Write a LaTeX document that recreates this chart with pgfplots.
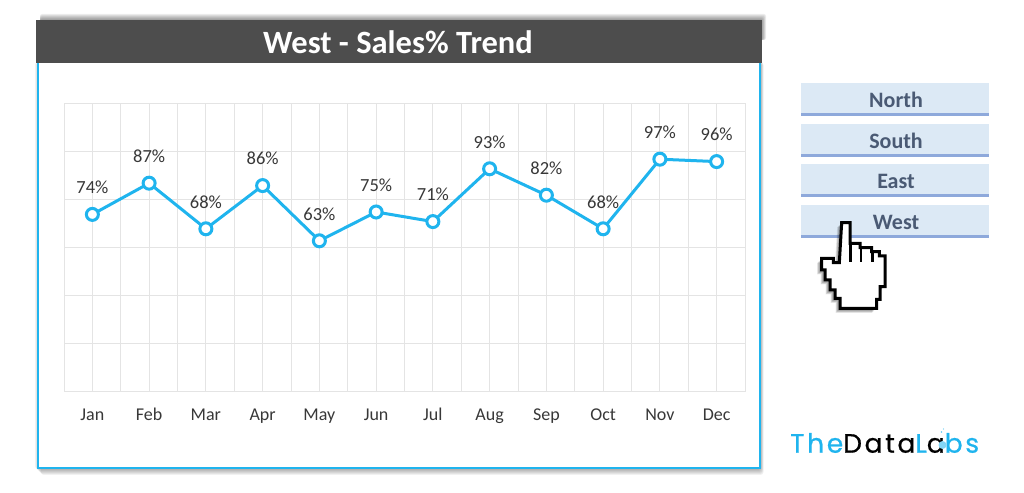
\documentclass[border=0pt]{standalone}
\usepackage{fontspec}
\usepackage{pgfplots}
\pgfplotsset{compat=1.18}
\setmainfont{Carlito}
\newfontfamily\logofont[LetterSpace=10,FakeBold=0.6]{Poppins}
\definecolor{linecol}{HTML}{1FB4EE}
\definecolor{gridcol}{HTML}{E4E4E4}
\definecolor{titlecol}{HTML}{4D4D4D}
\definecolor{btnfill}{HTML}{DCE9F5}
\definecolor{btnline}{HTML}{8EA9DB}
\definecolor{btntext}{HTML}{4A5A74}
\definecolor{labcol}{HTML}{383838}
\begin{document}
\begin{tikzpicture}
\begin{scope}[x=1pt,y=-1pt,yshift=492pt]
\useasboundingbox (0,0) rectangle (1024,492);
\fill[white] (0,0) rectangle (1024,492);
% panel shadow
\foreach \i in {1,...,7}{
  \fill[black,opacity=0.055,rounded corners=3pt] (34+\i,62) rectangle (760+\i/2,468+\i);
}
% title shadow
\foreach \i in {1,...,6}{
  \fill[black,opacity=0.07,rounded corners=2pt] (40,20-\i) rectangle (762+\i/1.5,40);
}
% panel
\fill[white] (37,63) rectangle (760,468);
\draw[linecol,line width=2pt] (37.5,63) -- (37.5,468) -- (759.5,468) -- (759.5,63);
% title bar
\fill[titlecol] (36,20) rectangle (762,63);
\node[text=white,font=\fontsize{32.5}{33}\selectfont\bfseries,anchor=center] at (398,42) {West - Sales\% Trend};
% buttons
\foreach \yt/\yb/\name in {83/116/North,124/157/South,164/197/East,205/238/West}{
  \fill[btnfill] (801,\yt) rectangle (989,\yb);
  \draw[btnline,line width=2.6pt] (801,\yb-1.3) -- (989,\yb-1.3);
  \node[text=btntext,font=\fontsize{22}{23}\selectfont\bfseries,anchor=center] at (896,\yb-16) {\name};
}
% logo
\node[anchor=west,inner sep=0pt,font=\fontsize{26.5}{27}\selectfont\logofont] at (790,443)
  {\textcolor{linecol}{The}\textcolor{black}{Data}\textcolor{linecol}{L}\textcolor{black}{a}\textcolor{linecol}{bs}};
\fill[linecol!55] (942.5,445) circle (4);
\fill[linecol!70] (941.5,432) circle (0.9) (943.5,429) circle (0.7);
\end{scope}
\begin{axis}[
  at={(64pt,100pt)},anchor=south west,
  scale only axis,width=681pt,height=288pt,
  xmin=-0.5,xmax=11.5,ymin=0,ymax=120,
  xtick={0,...,11},
  xticklabels={Jan,Feb,Mar,Apr,May,Jun,Jul,Aug,Sep,Oct,Nov,Dec},
  minor xtick={-0.5,0.5,...,11.5},
  ytick={0,20,...,120},yticklabels={},
  grid=both,
  major grid style={gridcol,line width=1pt},
  minor grid style={gridcol,line width=1pt},
  axis line style={gridcol,line width=1pt},
  tick style={draw=none},
  minor tick length=0pt,major tick length=0pt,
  xticklabel style={font=\fontsize{18}{19}\selectfont,text=labcol,yshift=-13pt,text height=12pt,text depth=4pt},
  clip=false,
]
\addplot[linecol,line width=3pt,mark=*,
  mark options={fill=white,draw=linecol,line width=3pt},mark size=6pt,
  nodes near coords={\pgfmathprintnumber[fixed,precision=0,assume math mode=true]{\pgfplotspointmeta}\%},
  nodes near coords style={font=\fontsize{18.5}{19}\selectfont,text=labcol,anchor=center,yshift=27pt},
  point meta=y]
coordinates {(0,74)(1,87)(2,68)(3,86)(4,63)(5,75)(6,71)(7,93)(8,82)(9,68)(10,97)(11,96)};
\end{axis}
\begin{scope}[x=1pt/3,y=-1pt/3,xshift=780pt,yshift=422pt]
% hand cursor, coordinates of the 3x crop
\def\hand{(185,458)--(210,458)--(210,520)--(240,520)--(240,533)--(275,533)--(275,545)--(298,545)--(298,558)--(315,558)--(315,650)--(300,650)--(300,688)--(290,688)--(290,715)--(180,715)--(180,685)--(165,685)--(165,660)--(150,660)--(150,630)--(135,630)--(135,600)--(125,600)--(125,565)--(160,565)--(160,578)--(178,578)--cycle}
\foreach \i in {1,...,5}{
  \begin{scope}[shift={(-6-\i*1.5,6+\i*1.5)}]
    \fill[black,opacity=0.08] \hand;
  \end{scope}
}
\draw[black,line width=3pt,fill=white,line join=miter] \hand;
\draw[black,line width=2.4pt] (212,520)--(212,575) (243,533)--(243,575) (277,545)--(277,575);
\end{scope}
\end{tikzpicture}
\end{document}
